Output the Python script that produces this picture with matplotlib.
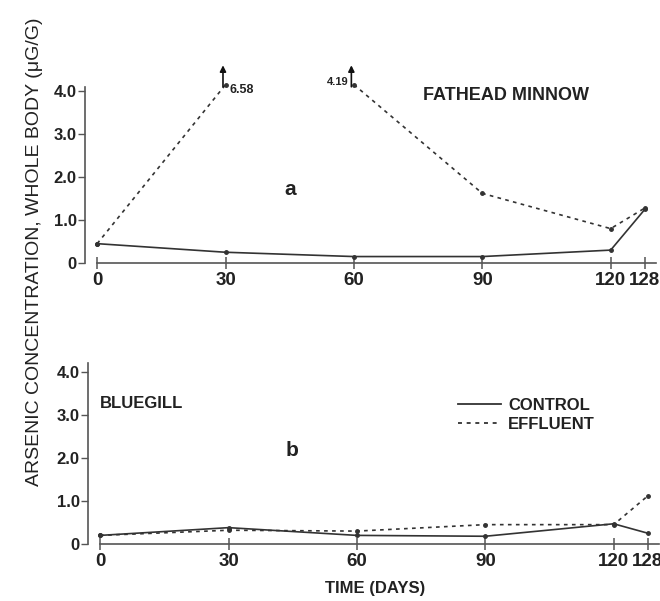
import matplotlib.pyplot as plt
import numpy as np
from matplotlib.lines import Line2D

plt.rcParams['font.family'] = ['Liberation Sans', 'DejaVu Sans']

# sampling days
days = [0, 30, 60, 90, 120, 128]
day_labels = ['0', '30', '60', '90', '120', '128']

# a: fathead minnow, arsenic ug/g whole body
minnow_control = [0.45, 0.25, 0.15, 0.15, 0.30, 1.25]
minnow_effluent = [0.45, 6.58, 4.19, 1.62, 0.80, 1.28]

# b: bluegill
gill_control = [0.20, 0.38, 0.20, 0.18, 0.47, 0.25]
gill_effluent = [0.20, 0.32, 0.30, 0.45, 0.45, 1.12]

yticks = [0, 1, 2, 3, 4]
ytick_labels = ['0', '1.0', '2.0', '3.0', '4.0']

# values above the top tick run off scale (shown with arrows, capped for drawing)
top_tick = 4.0
axis_break = 4.15

ink = '#333333'
dash = (0, (2.2, 2.6))
fig = plt.figure(figsize=(6.6, 6.01), dpi=100)

def style(ax, ytop, spine_top):
    ax.set_xlim(-2.8, 130.5)
    ax.set_ylim(0, ytop)
    for s in ['top', 'right']:
        ax.spines[s].set_visible(False)
    ax.spines['left'].set_bounds(0, spine_top)
    ax.spines['bottom'].set_bounds(0, 130.5)
    for s in ['left', 'bottom']:
        ax.spines[s].set_color('#555555')
        ax.spines[s].set_linewidth(1.2)
    ax.set_xticks(days)
    ax.set_xticklabels(day_labels, fontsize=13.5, fontweight='bold', color='#222222')
    ax.set_yticks(yticks)
    ax.set_yticklabels(ytick_labels, fontsize=12, fontweight='bold', color='#222222')
    ax.tick_params(axis='x', direction='inout', length=9, width=1.1, color='#555555', pad=2)
    ax.tick_params(axis='y', direction='out', length=5, width=1.0, color='#555555', pad=1)
    ax.patch.set_alpha(0)

ax1 = fig.add_axes([85.2 / 660, (601 - 263) / 601, 570.4 / 660, 202 / 601])
ax2 = fig.add_axes([88.2 / 660, (601 - 544) / 601, 570.4 / 660, 185 / 601])
style(ax1, 4.7, 4.1)
style(ax2, 4.3, 4.2)

line_kw = dict(color=ink, lw=1.2, marker='o', markersize=2.5, clip_on=False)
ax1.plot(days, minnow_control, '-', **line_kw)

# effluent line is broken between two consecutive off-scale points
eff = np.array(minnow_effluent)
shown = np.minimum(eff, axis_break)
start = 0
for i in range(1, len(eff) + 1):
    if i == len(eff) or (eff[i - 1] > top_tick and eff[i] > top_tick):
        ax1.plot(days[start:i], shown[start:i], linestyle=dash, **line_kw)
        start = i

ax2.plot(days, gill_control, '-', **line_kw)
ax2.plot(days, gill_effluent, linestyle=dash, **line_kw)

# arrows for off-scale values
for d, v, ha, dx in [(30, minnow_effluent[1], 'left', 1.0), (60, minnow_effluent[2], 'right', -1.2)]:
    if v > top_tick:
        ax1.annotate('', xy=(d - 0.6, 4.6), xytext=(d - 0.6, min(v, axis_break) - 0.05),
                     arrowprops=dict(arrowstyle='-|>', color='#111111', lw=1.2,
                                     mutation_scale=9, shrinkA=0, shrinkB=0))
        ax1.text(d + dx, 4.03 if ha == 'left' else 4.22, '%.2f' % v, ha=ha, va='center',
                 fontsize=9 if ha == 'left' else 8, fontweight='bold', color='#222222')

fig.text(506 / 660, 1 - 95 / 601, 'FATHEAD MINNOW', ha='center', va='center',
         fontsize=13, fontweight='bold', color='#222222')
fig.text(290 / 660, 1 - 190 / 601, 'a', ha='center', va='center',
         fontsize=15, fontweight='bold', color='#222222')
fig.text(100 / 660, 1 - 403 / 601, 'BLUEGILL', ha='left', va='center',
         fontsize=12, fontweight='bold', color='#222222')
fig.text(292 / 660, 1 - 451 / 601, 'b', ha='center', va='center',
         fontsize=15, fontweight='bold', color='#222222')

handles = [Line2D([], [], color=ink, lw=1.3),
           Line2D([], [], color=ink, lw=1.3, linestyle=dash)]
leg = ax2.legend(handles, ['CONTROL', 'EFFLUENT'], loc='upper left',
                 bbox_to_anchor=(458 / 660, 1 - 398 / 601), bbox_transform=fig.transFigure,
                 frameon=False, handlelength=2.6, handletextpad=0.4, labelspacing=0.25,
                 borderpad=0, borderaxespad=0,
                 prop=dict(size=12, weight='bold'))
for t in leg.get_texts():
    t.set_color('#222222')

fig.text(35 / 660, 1 - 252 / 601, 'ARSENIC CONCENTRATION, WHOLE BODY (\u03bcG/G)',
         rotation=90, ha='center', va='center', fontsize=14, color='#222222')
fig.text(375 / 660, 1 - 588 / 601, 'TIME (DAYS)', ha='center', va='center',
         fontsize=12, fontweight='bold', color='#222222')

fig.savefig('out.png', dpi=100)
